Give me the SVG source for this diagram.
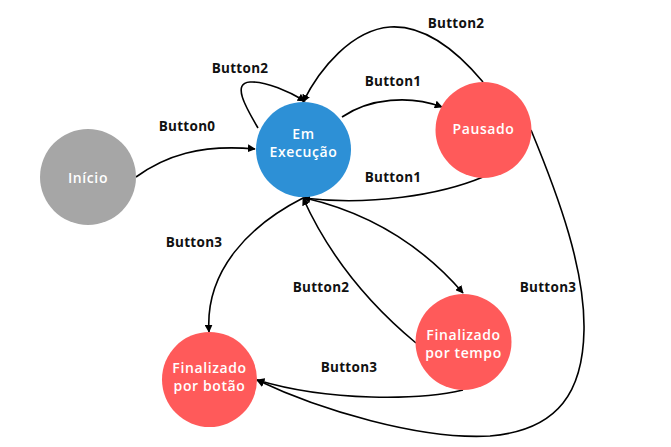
<svg xmlns="http://www.w3.org/2000/svg" width="671" height="447" viewBox="0 0 671 447">
<defs>
<marker id="arr" viewBox="0 0 10 10" refX="9" refY="5" markerWidth="8" markerHeight="8" markerUnits="userSpaceOnUse" orient="auto">
<path d="M0,0 L10,5 L0,10 z" fill="#000"/>
</marker>
<style>
.edge{fill:none;stroke:#000;stroke-width:1.6;marker-end:url(#arr)}
.lbl{font-family:"Open Sans","Liberation Sans",sans-serif;font-weight:700;font-size:13.5px;letter-spacing:0.3px;fill:#111;text-anchor:middle;dominant-baseline:central}
.ntx{font-family:"Open Sans","Liberation Sans",sans-serif;font-weight:600;font-size:14px;letter-spacing:0.6px;fill:#fff;text-anchor:middle;dominant-baseline:central}
.blue{fill:#2D90D6}
.red{fill:#FF5A5A}
.gray{fill:#A6A6A6}
</style>
</defs>
<rect width="671" height="447" fill="#fff"/>
<g id="connectors">
<path class="edge" d="M136,177 C165,156 200,144 255,149"/>
<path class="edge" d="M258,128 C245,106 232,83 250,82 C266,81 290,92 305,101"/>
<path class="edge" d="M342,117 C370,98 410,95 442,107"/>
<path class="edge" d="M483,82 C452,45 422,25 390,27 C352,30 320,68 303,102"/>
<path class="edge" d="M483,177 C440,195 370,206 303,198"/>
<path class="edge" d="M303,198 C250,225 205,270 209,332"/>
<path class="edge" d="M305,198 Q400,220 463,293"/>
<path class="edge" d="M416,343 Q340,280 303,198"/>
<path class="edge" d="M463,390 C420,400 330,402 257,380"/>
<path class="edge" d="M531,130 C560,200 585,270 584,330 C583,390 560,430 490,436 C420,440 320,410 257,380"/>
</g>
<g id="labels">
<text class="lbl" x="187" y="126">Button0</text>
<text class="lbl" x="240" y="68">Button2</text>
<text class="lbl" x="456" y="23">Button2</text>
<text class="lbl" x="393" y="81">Button1</text>
<text class="lbl" x="393" y="177">Button1</text>
<text class="lbl" x="194" y="242">Button3</text>
<text class="lbl" x="321" y="287">Button2</text>
<text class="lbl" x="548" y="287">Button3</text>
<text class="lbl" x="349" y="367">Button3</text>
</g>
<g id="inicio">
<circle class="gray" cx="88" cy="177" r="48"/>
<text class="ntx" x="88" y="177">Início</text>
</g>
<g id="em-execucao">
<circle class="blue" cx="303.5" cy="149.5" r="47.5"/>
<text class="ntx" x="303.5" y="133">Em</text>
<text class="ntx" x="303.5" y="151">Execução</text>
</g>
<g id="pausado">
<circle class="red" cx="483.5" cy="130" r="48"/>
<text class="ntx" x="483.5" y="128">Pausado</text>
</g>
<g id="finalizado-tempo">
<circle class="red" cx="463.5" cy="342" r="48"/>
<text class="ntx" x="463.5" y="334">Finalizado</text>
<text class="ntx" x="463.5" y="352">por tempo</text>
</g>
<g id="finalizado-botao">
<circle class="red" cx="209.5" cy="379.5" r="47.5"/>
<text class="ntx" x="209.5" y="367">Finalizado</text>
<text class="ntx" x="209.5" y="385">por botão</text>
</g>
</svg>
